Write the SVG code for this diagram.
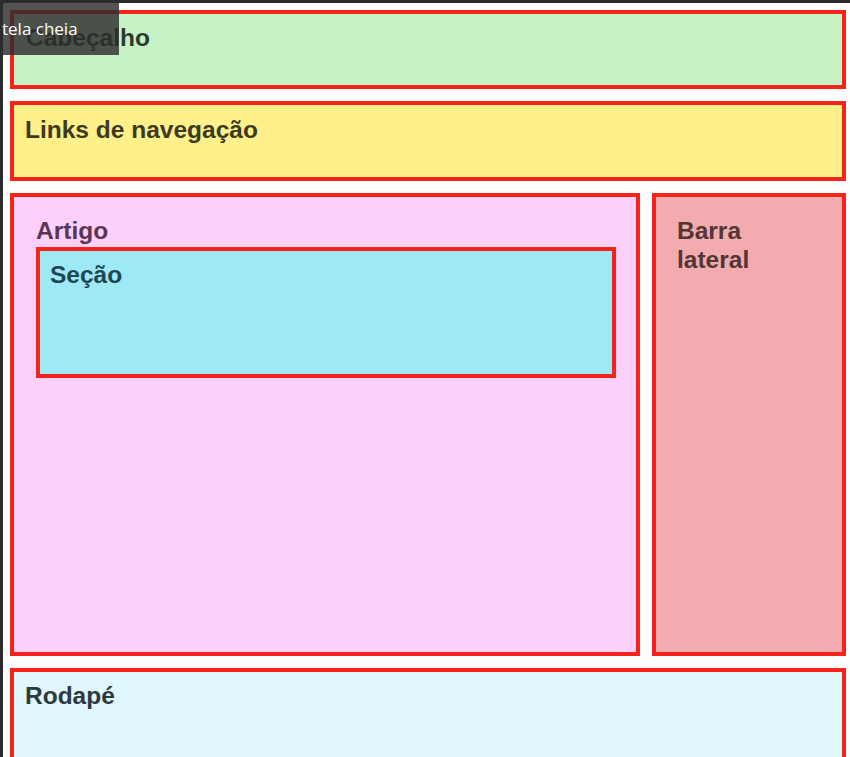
<svg xmlns="http://www.w3.org/2000/svg" width="850" height="757" viewBox="0 0 850 757">
<style>
.box{stroke:#f5231a;stroke-width:4}
.lbl{font-family:"Liberation Sans",Arial,sans-serif;font-weight:bold;font-size:24.5px}
</style>
<rect x="0" y="0" width="850" height="757" fill="#fefefe"/>
<rect x="0" y="0" width="850" height="3" fill="#2a2a2a"/>
<rect x="0" y="0" width="3" height="757" fill="#2a2a2a"/>
<g id="cabecalho">
<rect class="box" x="12" y="12" width="832" height="75" fill="#c6f3c6"/>
<text class="lbl" x="26" y="46" fill="#2e3a2e">Cabeçalho</text>
</g>
<g id="nav">
<rect class="box" x="12" y="103" width="832" height="76" fill="#fff08a"/>
<text class="lbl" x="25" y="138" fill="#3d3a22">Links de navegação</text>
</g>
<g id="artigo">
<rect class="box" x="12" y="195" width="626" height="459" fill="#fdd0fb"/>
<text class="lbl" x="36" y="239" fill="#5a3556">Artigo</text>
</g>
<g id="secao">
<rect class="box" x="38" y="249" width="576" height="127" fill="#9de9f5"/>
<text class="lbl" x="50" y="283" fill="#1f4752">Seção</text>
</g>
<g id="barra">
<rect class="box" x="654" y="195" width="190" height="459" fill="#f2acb0"/>
<text class="lbl" x="677" y="239" fill="#553536">Barra</text>
<text class="lbl" x="677" y="268" fill="#553536">lateral</text>
</g>
<g id="rodape">
<rect class="box" x="12" y="670" width="832" height="110" fill="#dff7fd"/>
<text class="lbl" x="25" y="704" fill="#2c3a40">Rodapé</text>
</g>
<g id="connectors"></g>
<g id="tooltip">
<rect x="0" y="3" width="119" height="52" fill="#2d2d2d" fill-opacity="0.82"/>
<text x="2" y="35" font-family="'Open Sans','Noto Sans',sans-serif" font-size="17" fill="#ffffff">tela cheia</text>
</g>
</svg>
